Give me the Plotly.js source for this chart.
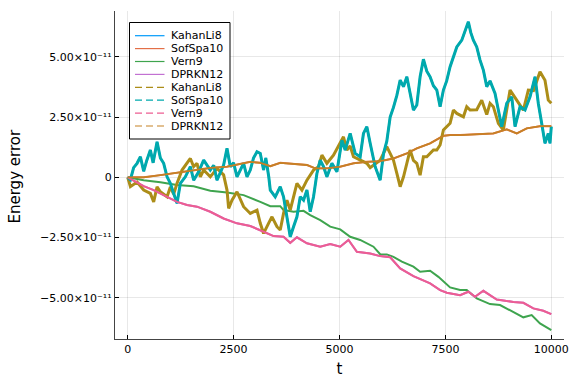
<!DOCTYPE html>
<html>
<head>
<meta charset="utf-8">
<script src="https://cdn.plot.ly/plotly-3.0.1.min.js"></script>
<style>html,body{margin:0;padding:0;background:#fff;}#chart{width:576px;height:384px;}</style>
</head>
<body>
<div id="chart"></div>
<script>
// ---- data (energy error in units of 1e-12) ----
const seriesNames = ["KahanLi8","SofSpa10","Vern9","DPRKN12","KahanLi8","SofSpa10","Vern9","DPRKN12"];

// Vern9 (solid, green)
const vern9T = [0,377,771,1165,1557,1950,2344,2736,3130,3366,3601,3679,3915,4151,4309,4545,4781,5017,5252,5488,5802,5960,6117,6274,6472,6745,6903,7139,7335,7611,7847,8004,8240,8554,8790,9104,9340,9537,9733,10000];
const vern9E = [0,-1.2,-2.1,-3.2,-3.7,-5.6,-6.3,-7.4,-10.2,-12.0,-12.0,-13.6,-14.3,-13.9,-15.7,-17.8,-20.5,-21.6,-24.7,-26,-28.8,-31.9,-32,-33,-35,-37.1,-39.2,-38.8,-41.3,-45.7,-46.8,-46.8,-50.3,-52.6,-53,-55.8,-58.1,-57.2,-60.6,-63.4];

// Vern9 (dashed, pink) and DPRKN12 (solid, purple, hidden beneath)
const vern9dT = [0,377,613,929,1165,1401,1637,1950,2264,2580,2894,3208,3366,3443,3679,3837,3995,4231,4545,4781,5017,5212,5410,5724,5960,6196,6432,6745,7139,7375,7533,7847,8042,8200,8396,8712,9104,9340,9576,9811,10000];
const vern9dE = [0,-3.7,-5.3,-8.1,-10.2,-11.5,-12.2,-14.3,-17.1,-19.1,-20.2,-22.6,-24,-24.4,-24.7,-27.2,-24.9,-27.4,-28.8,-27.7,-28.8,-26,-30.9,-31.6,-32.7,-33.2,-37.8,-41,-44,-46.8,-47.9,-48.9,-47.5,-49.6,-47.1,-50.7,-51.7,-52.1,-54.4,-55.4,-56.8];

// DPRKN12 (dashed, brown) and SofSpa10 (solid, orange)
const dprknT = [0,377,771,1165,1557,1950,2344,2736,2894,3130,3366,3601,3915,4231,4427,4703,5017,5330,5646,5960,6274,6590,6825,7139,7453,7611,7847,8240,8632,8948,9184,9420,9733,10000];
const dprknE = [0,0,0.9,1.9,3,3.9,4.4,5.8,6.4,6,4.6,6,5.5,5.1,3.7,3.7,4.4,5.8,6.4,6.7,7.8,9.9,12,14.1,17.2,17.5,17.5,17.9,18.2,19.9,18.2,20.3,21.2,21.2];

// SofSpa10 (dashed, teal) and KahanLi8 (solid, blue, hidden beneath)
const sofT = [0,64,140,221,300,377,450,535,600,693,771,849,929,1007,1085,1165,1243,1361,1479,1557,1675,1793,1950,2030,2108,2264,2344,2422,2500,2580,2736,2816,2894,2970,3052,3130,3208,3260,3330,3366,3483,3601,3679,3759,3837,3915,3995,4073,4151,4231,4309,4387,4467,4545,4623,4703,4821,4939,5057,5134,5252,5370,5488,5566,5646,5724,5842,5960,6040,6117,6196,6274,6354,6432,6511,6590,6667,6745,6825,6903,6981,7061,7139,7217,7297,7375,7453,7530,7611,7689,7769,7887,8004,8042,8100,8160,8240,8318,8396,8476,8554,8672,8750,8830,8948,9066,9144,9262,9380,9498,9616,9693,9773,9851,9929,9969,10000];
const sofE = [0,-1,4,5.8,8.5,2.5,7,11.3,6,14.7,8,5.8,0.2,-2.5,-6.7,-10.8,-2.5,0.2,4.4,-1.2,2.3,7.1,3,5,-1.2,5.1,12,4.4,6,0.2,5.8,0.2,3,8,10.6,9.9,3,8,0.2,-5.3,-8.1,-3.9,-8.1,-16.4,-24.7,-20.5,-16.4,-8.1,-9.5,-5.3,-14.3,-8.1,1.6,7.1,4.4,0.2,5.8,2.3,15.4,11.3,18.2,9.9,8.5,18.2,21,14.1,4.4,-1.2,9.9,15,25,29,34,40.3,37.6,41.7,34.8,27.9,30,41.7,49,44,41.7,38,36.2,29.3,36.2,40,45.9,50,54.1,56.9,62.4,64.5,60,56.9,54.1,48.6,44.5,37.6,40,34.8,27.9,21,30.7,33.4,21,29.3,27.9,33.4,41.7,30.7,22.4,14.1,18.2,14.1,21];

// KahanLi8 (dashed, olive)
const kahanT = [0,64,221,377,535,613,693,771,929,1007,1085,1165,1283,1401,1479,1557,1636,1715,1793,1950,2108,2264,2344,2383,2462,2580,2736,2894,3052,3130,3208,3325,3406,3524,3601,3679,3759,3837,3915,3995,4113,4231,4387,4505,4585,4703,4858,5017,5094,5174,5252,5330,5488,5646,5724,5960,6117,6274,6354,6432,6511,6590,6667,6745,6825,6903,6981,7061,7217,7297,7375,7453,7611,7689,7769,7925,8004,8083,8240,8358,8476,8554,8632,8750,8868,9026,9184,9340,9458,9580,9733,9851,9929,10000];
const kahanE = [0,-3.9,-2,-5.3,-6.7,-10.2,-4,-6,-8.1,-4,-7,-2.5,3,5.8,7.8,4.4,5.8,0.2,3,0.2,3.7,1,-5.3,-12.9,-9.5,-6,-12.2,-15,-13.6,-19.1,-23.3,-19.1,-16.4,-20.5,-21.9,-15,-9.5,-13.6,-8.1,-2.5,-5.3,-1.2,3,4.4,9.2,5.8,9.2,14,16.8,11.3,13,8.5,7.1,5.8,4,7.1,12.7,7.1,1.6,-3.9,0.2,5.8,11.3,7,5.8,0.9,8.5,8.5,11.3,11.3,13.4,19.6,22.4,27.9,26.5,25.1,29.3,27.9,28,32,26,30.7,29.3,22.4,19.6,36.2,32,27.9,36.2,36,43.8,40.3,32,30.7];

const xTickVals = [0,2500,5000,7500,10000];
const xTickText = ["0","2500","5000","7500","10000"];
const yTickVals = [-5e-11,-2.5e-11,0,2.5e-11,5e-11];
const yTickText = ["\u22125.00\u00d710\u207b\u00b9\u00b9","\u22122.50\u00d710\u207b\u00b9\u00b9","0","2.50\u00d710\u207b\u00b9\u00b9","5.00\u00d710\u207b\u00b9\u00b9"];
const xTitle = "t";
const yTitle = "Energy error";

// ---- styling ----
const colors = ["#009AFA","#E36F47","#3EA44E","#C271D2","#AC8D18","#00A9AD","#ED5D92","#C68125"];
const scale = v => v.map(e => e * 1e-12);
const FONT = "DejaVu Sans, Verdana, sans-serif";

// series: [t, E, colorIndex, width]
const seriesData = [
  [sofT, sofE, 0, 2],        // KahanLi8 solid (under teal)
  [dprknT, dprknE, 1, 2],    // SofSpa10 solid
  [vern9T, vern9E, 2, 2],    // Vern9 solid
  [vern9dT, vern9dE, 3, 2],  // DPRKN12 solid (under pink)
  [kahanT, kahanE, 4, 3],    // KahanLi8 dashed
  [sofT, sofE, 5, 3],        // SofSpa10 dashed
  [vern9dT, vern9dE, 6, 2],  // Vern9 dashed
  [dprknT, dprknE, 7, 1.8]   // DPRKN12 dashed
];

const traces = seriesData.map((s, i) => ({
  type: "scatter", mode: "lines",
  x: s[0], y: scale(s[1]),
  name: seriesNames[i],
  showlegend: false,
  line: {color: colors[s[2]], width: s[3], shape: "linear"},
  hoverinfo: "skip"
}));

// ---- manual legend (Plots.jl style, compact) ----
const L = 115, T = 11, W = 449, H = 328;
const px = x => (x - L) / W;
const py = y => (T + H - y) / H;
const shapes = [{
  type: "rect", xref: "paper", yref: "paper",
  x0: px(129.5), x1: px(230), y0: py(22.5), y1: py(139),
  line: {color: "#000", width: 1}, fillcolor: "#fff", layer: "above"
}];
const annotations = [];
for (let i = 0; i < 8; i++) {
  const yc = 35.7 + i * 12.9;
  shapes.push({
    type: "line", xref: "paper", yref: "paper",
    x0: px(135), x1: px(164.5), y0: py(yc), y1: py(yc),
    line: {color: colors[i], width: 1.2, dash: i < 4 ? "solid" : "7px,4px"},
    layer: "above"
  });
  annotations.push({
    xref: "paper", yref: "paper", x: px(168.5), y: py(yc),
    xanchor: "left", yanchor: "middle", showarrow: false,
    text: seriesNames[i], font: {family: FONT, size: 11, color: "#000"}
  });
}
// y-axis title placed like the Plots.jl/GR layout
annotations.push({
  xref: "paper", yref: "paper", x: px(14.5), y: py(177),
  xanchor: "center", yanchor: "middle", showarrow: false, textangle: -90,
  text: yTitle, font: {family: FONT, size: 15, color: "#000"}
});

const layout = {
  width: 576, height: 384,
  margin: {l: L, r: 576 - L - W, t: T, b: 384 - T - H},
  paper_bgcolor: "#fff", plot_bgcolor: "#fff",
  font: {family: FONT, size: 11, color: "#000"},
  showlegend: false,
  xaxis: {
    range: [-300, 10300],
    tickvals: xTickVals, ticktext: xTickText,
    ticks: "inside", ticklen: 4, tickcolor: "#000",
    showline: true, linecolor: "#444", linewidth: 1.3,
    showgrid: true, gridcolor: "rgba(0,0,0,0.09)", gridwidth: 0.6,
    zeroline: false,
    tickfont: {family: FONT, size: 11, color: "#000"},
    title: {text: xTitle, font: {family: FONT, size: 15, color: "#000"}, standoff: 8}
  },
  yaxis: {
    range: [-6.71e-11, 6.9e-11],
    tickvals: yTickVals, ticktext: yTickText,
    ticks: "inside", ticklen: 4, tickcolor: "#000",
    showline: true, linecolor: "#444", linewidth: 1.3,
    showgrid: true, gridcolor: "rgba(0,0,0,0.09)", gridwidth: 0.6,
    zeroline: false,
    tickfont: {family: FONT, size: 11, color: "#000"}
  },
  shapes: shapes,
  annotations: annotations
};

Plotly.newPlot("chart", traces, layout, {displayModeBar: false});
</script>
</body>
</html>
